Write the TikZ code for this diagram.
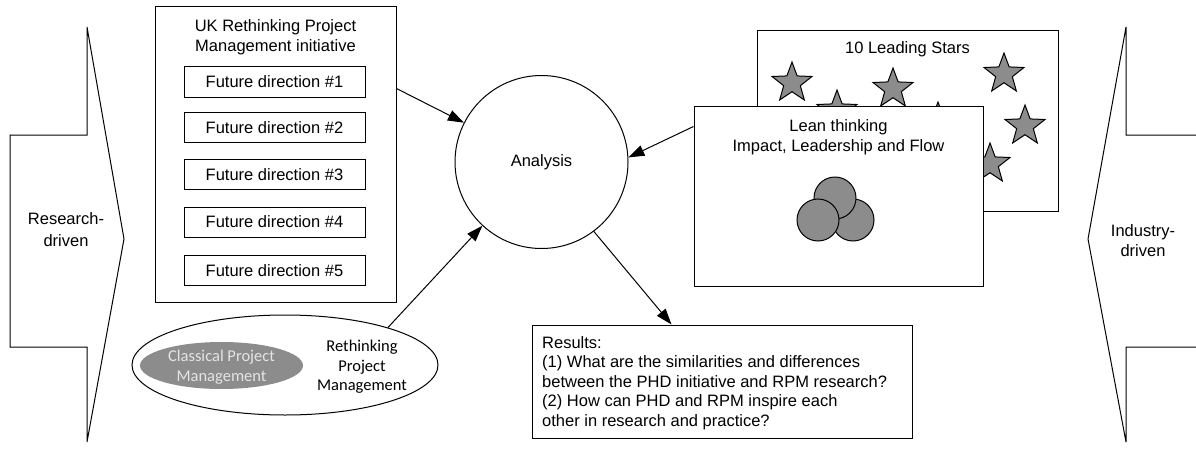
\documentclass[tikz,border=0pt]{standalone}
\usepackage{fontspec}
\setmainfont{Liberation Sans}
\newfontfamily\calibrifont{Carlito}
\usetikzlibrary{shapes.geometric,arrows.meta,calc}
\definecolor{fillgrey}{RGB}{140,140,140}
\definecolor{pale}{RGB}{228,228,228}
\begin{document}
\begin{tikzpicture}[x=1pt,y=-1pt,
  every node/.style={font=\fontsize{16.5}{20}\selectfont, inner sep=0pt},
  box/.style={draw, line width=1pt, fill=white},
  outline/.style={draw, line width=1pt, line join=miter},
  arr/.style={line width=1pt, -{Triangle[length=16pt,width=11pt]}},
  starnode/.style={star, star points=5, star point ratio=2.4, minimum size=42, draw, line width=1pt, fill=fillgrey},
  ball/.style={circle, minimum size=42, draw, line width=1pt, fill=fillgrey},
  label/.style={align=center, anchor=north}
]
\useasboundingbox (0,0) rectangle (1196,452);

% side arrows
\draw[outline] (10,135) -- (87,135) -- (87,27) -- (124,239) -- (87,442) -- (87,347) -- (10,347) -- cycle;
\node[label, font=\fontsize{16.5}{22}\selectfont] (rd) at (66,212) {Research-\\driven};
\draw[outline] (1200,135) -- (1126,135) -- (1126,27) -- (1088,239) -- (1126,442) -- (1126,347) -- (1200,347);
\node[label, font=\fontsize{16.5}{20}\selectfont] (id) at (1143,224) {Industry-\\driven};

% UK box
\node[box, minimum width=241, minimum height=295] (uk) at (275.5,154.5) {};
\node[label] (ukt) at (275.5,19) {UK Rethinking Project\\Management initiative};
\node[box, minimum width=181, minimum height=30] (f1) at (274.5,82) {Future direction \#1};
\node[box, minimum width=181, minimum height=30] (f2) at (274.5,127.5) {Future direction \#2};
\node[box, minimum width=181, minimum height=30] (f3) at (274.5,174.5) {Future direction \#3};
\node[box, minimum width=181, minimum height=30] (f4) at (274.5,222) {Future direction \#4};
\node[box, minimum width=181, minimum height=30] (f5) at (274.5,270.5) {Future direction \#5};

% Analysis
\node[circle, draw, line width=1pt, minimum size=173] (an) at (541.5,162) {Analysis};

% stars box
\node[box, minimum width=301, minimum height=180] (sb) at (907.5,121) {};
\node[anchor=base] (sbt) at (907.5,54) {10 Leading Stars};
\node[starnode] (s1) at (792,83) {};
\node[starnode] (s2) at (837,111) {};
\node[starnode] (s3) at (893,89) {};
\node[starnode] (s4) at (938,123) {};
\node[starnode] (s5) at (1004,74) {};
\node[starnode] (s6) at (1025,126) {};
\node[starnode] (s7) at (990,164) {};

% lean box
\node[box, minimum width=289, minimum height=180] (lean) at (838.5,196) {};
\node[label] (leant) at (838.5,119) {Lean thinking\\Impact, Leadership and Flow};
\node[ball] (c3) at (853,220) {};
\node[ball] (c2) at (835,198) {};
\node[ball] (c1) at (818,220) {};

% ellipse
\node[ellipse, draw, line width=1pt, minimum width=306, minimum height=100] (el) at (285,365) {};
\node[ellipse, fill=fillgrey, minimum width=163, minimum height=47] (cl) at (221.5,365.5) {};
\node[label, font=\calibrifont\fontsize{16.5}{20}\selectfont, text=pale] (clt) at (221.5,350) {Classical Project\\Management};
\node[label, font=\calibrifont\fontsize{16.5}{19.5}\selectfont] (rpm) at (362,340) {Rethinking\\Project\\Management};

% results
\node[box, minimum width=380, minimum height=113] (res) at (722,381.5) {};
\node[anchor=north west, align=left, font=\fontsize{16.5}{19.5}\selectfont] (rest) at (542,336) {Results:\\(1) What are the similarities and differences\\between the PHD initiative and RPM research?\\(2) How can PHD and RPM inspire each\\other in research and practice?};

% connectors
\coordinate (a1s) at ($(uk.north east)+(0,82)$);
\draw[arr] (a1s) -- (an);
\draw[arr] (el.20) -- (an);
\coordinate (a3s) at ($(lean.north west)+(0,21)$);
\draw[arr] (a3s) -- (an.3);
\coordinate (a4e) at ($(res.north west)+(140,0)$);
\draw[arr] (an.-53) -- (a4e);
\end{tikzpicture}
\end{document}
